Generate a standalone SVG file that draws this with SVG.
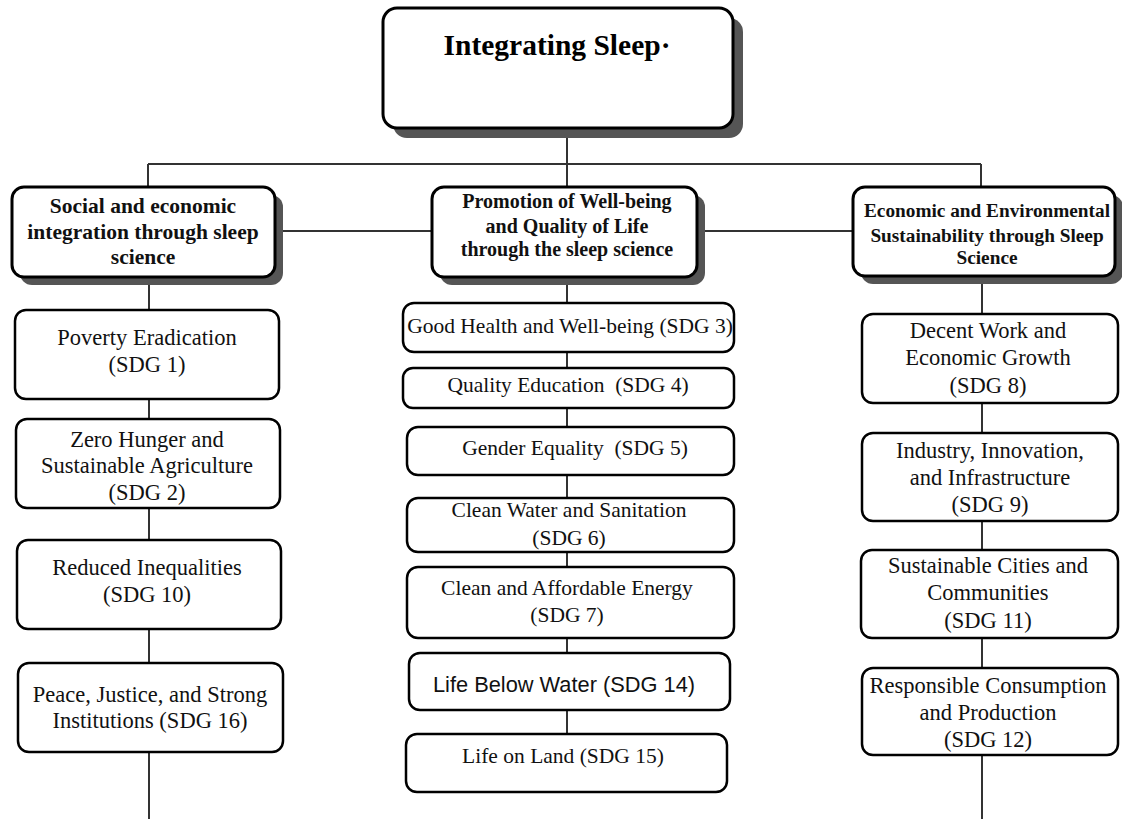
<svg xmlns="http://www.w3.org/2000/svg" width="1122" height="819" viewBox="0 0 1122 819">
<style>
.bg{fill:#fff}
.conn{stroke:#333;stroke-width:2;fill:none}
.shadow{fill:#555}
.hbox{fill:#fff;stroke:#000;stroke-width:3}
.sbox{fill:#fff;stroke:#000;stroke-width:2.5}
.title{font-family:"Liberation Serif",serif;font-weight:bold;font-size:29.5px;fill:#000;text-anchor:middle}
.head{font-family:"Liberation Serif",serif;font-weight:bold;fill:#111;text-anchor:middle}
.t{font-family:"Liberation Serif",serif;font-size:22.5px;fill:#111;text-anchor:middle}
.tm{font-family:"Liberation Serif",serif;font-size:21.5px;fill:#111;text-anchor:middle}
.ts{font-family:"Liberation Sans",Arial,sans-serif;font-size:21.8px;fill:#111;text-anchor:middle}
</style>
<rect class="bg" x="0" y="0" width="1122" height="819"/>
<g id="connectors">
<line class="conn" x1="567" y1="128" x2="567" y2="187"/>
<line class="conn" x1="148" y1="164" x2="981" y2="164"/>
<line class="conn" x1="148" y1="164" x2="148" y2="187"/>
<line class="conn" x1="981" y1="164" x2="981" y2="187"/>
<line class="conn" x1="275" y1="231" x2="432" y2="231"/>
<line class="conn" x1="697" y1="231" x2="853" y2="231"/>
<line class="conn" x1="149" y1="277" x2="149" y2="819"/>
<line class="conn" x1="567" y1="277" x2="567" y2="734"/>
<line class="conn" x1="982" y1="276" x2="982" y2="819"/>
</g>
<g id="root">
<rect class="shadow" x="393" y="18" width="350" height="120" rx="14"/>
<rect class="hbox" x="383" y="8" width="350" height="120" rx="14"/>
<text class="title" x="557" y="55">Integrating Sleep·</text>
</g>
<g id="h-social">
<rect class="shadow" x="20" y="195" width="263" height="90" rx="12"/>
<rect class="hbox" x="12" y="187" width="263" height="90" rx="12"/>
<text class="head" font-size="21.5" x="143" y="213">Social and economic</text>
<text class="head" font-size="21.5" x="143" y="239">integration through sleep</text>
<text class="head" font-size="21.5" x="143" y="264">science</text>
</g>
<g id="h-wellbeing">
<rect class="shadow" x="440" y="195" width="265" height="90" rx="12"/>
<rect class="hbox" x="432" y="187" width="265" height="90" rx="12"/>
<text class="head" font-size="20" x="567" y="208">Promotion of Well-being</text>
<text class="head" font-size="20" x="567" y="233">and Quality of Life</text>
<text class="head" font-size="20" x="567" y="256">through the sleep science</text>
</g>
<g id="h-environment">
<rect class="shadow" x="861" y="195" width="262" height="89" rx="12"/>
<rect class="hbox" x="853" y="187" width="262" height="89" rx="12"/>
<text class="head" font-size="19.3" x="987" y="217">Economic and Environmental</text>
<text class="head" font-size="19.3" x="987" y="242">Sustainability through Sleep</text>
<text class="head" font-size="19.3" x="987" y="264">Science</text>
</g>
<g id="sdg1">
<rect class="sbox" x="15" y="310" width="264" height="89" rx="11"/>
<text class="t" x="147" y="345">Poverty Eradication</text>
<text class="t" x="147" y="372">(SDG 1)</text>
</g>
<g id="sdg2">
<rect class="sbox" x="16" y="419" width="264" height="89" rx="11"/>
<text class="t" x="147" y="447">Zero Hunger and</text>
<text class="t" x="147" y="473">Sustainable Agriculture</text>
<text class="t" x="147" y="500">(SDG 2)</text>
</g>
<g id="sdg10">
<rect class="sbox" x="17" y="540" width="264" height="89" rx="11"/>
<text class="t" x="147" y="575">Reduced Inequalities</text>
<text class="t" x="147" y="602">(SDG 10)</text>
</g>
<g id="sdg16">
<rect class="sbox" x="18" y="663" width="265" height="89" rx="11"/>
<text class="t" x="150" y="702">Peace, Justice, and Strong</text>
<text class="t" x="150" y="728">Institutions (SDG 16)</text>
</g>
<g id="sdg3">
<rect class="sbox" x="403" y="303" width="331" height="49" rx="11"/>
<text class="tm" x="570" y="333" font-size="19.6">Good Health and Well-being (SDG 3)</text>
</g>
<g id="sdg4">
<rect class="sbox" x="403" y="368" width="331" height="40" rx="10"/>
<text class="tm" x="568" y="392" xml:space="preserve">Quality Education  (SDG 4)</text>
</g>
<g id="sdg5">
<rect class="sbox" x="407" y="427" width="327" height="48" rx="11"/>
<text class="tm" x="575" y="455" xml:space="preserve">Gender Equality  (SDG 5)</text>
</g>
<g id="sdg6">
<rect class="sbox" x="407" y="498" width="327" height="54" rx="11"/>
<text class="tm" x="569" y="517">Clean Water and Sanitation</text>
<text class="tm" x="569" y="545">(SDG 6)</text>
</g>
<g id="sdg7">
<rect class="sbox" x="407" y="567" width="327" height="71" rx="11"/>
<text class="tm" x="567" y="595">Clean and Affordable Energy</text>
<text class="tm" x="567" y="622">(SDG 7)</text>
</g>
<g id="sdg14">
<rect class="sbox" x="409" y="653" width="321" height="57" rx="11"/>
<text class="ts" x="564" y="692">Life Below Water (SDG 14)</text>
</g>
<g id="sdg15">
<rect class="sbox" x="406" y="734" width="321" height="58" rx="11"/>
<text class="tm" x="563" y="763">Life on Land (SDG 15)</text>
</g>
<g id="sdg8">
<rect class="sbox" x="862" y="314" width="256" height="89" rx="11"/>
<text class="t" x="988" y="338">Decent Work and</text>
<text class="t" x="988" y="365">Economic Growth</text>
<text class="t" x="988" y="393">(SDG 8)</text>
</g>
<g id="sdg9">
<rect class="sbox" x="862" y="433" width="256" height="88" rx="11"/>
<text class="t" x="990" y="458">Industry, Innovation,</text>
<text class="t" x="990" y="485">and Infrastructure</text>
<text class="t" x="990" y="512">(SDG 9)</text>
</g>
<g id="sdg11">
<rect class="sbox" x="861" y="550" width="257" height="88" rx="11"/>
<text class="t" x="988" y="573">Sustainable Cities and</text>
<text class="t" x="988" y="600">Communities</text>
<text class="t" x="988" y="628">(SDG 11)</text>
</g>
<g id="sdg12">
<rect class="sbox" x="862" y="668" width="256" height="87" rx="11"/>
<text class="t" x="988" y="693">Responsible Consumption</text>
<text class="t" x="988" y="720">and Production</text>
<text class="t" x="988" y="747">(SDG 12)</text>
</g>
</svg>
